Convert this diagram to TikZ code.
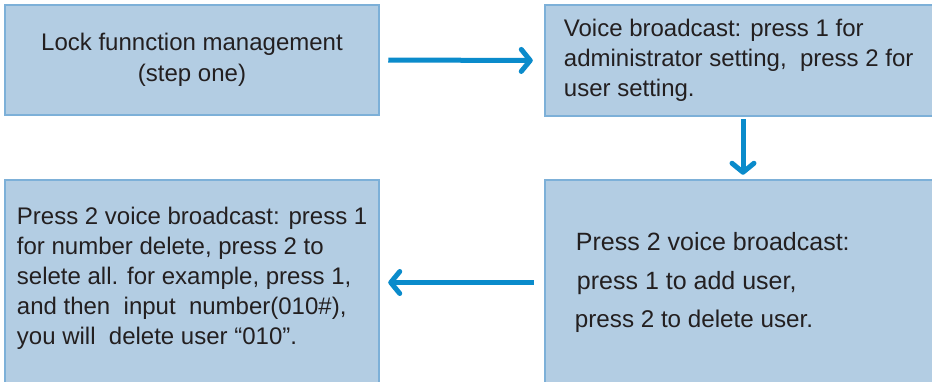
\documentclass[tikz,border=0pt]{standalone}
\usepackage{fontspec}
\setmainfont{Liberation Sans}
\usetikzlibrary{arrows.meta}
\definecolor{boxfill}{HTML}{B3CDE3}
\definecolor{boxline}{HTML}{7DB0D8}
\definecolor{arrowblue}{HTML}{0A8BCB}
\definecolor{txtcol}{HTML}{231F20}
\begin{document}
\begin{tikzpicture}[x=1pt,y=-1pt,
  box/.style={draw=boxline, fill=boxfill, line width=2.5pt, inner sep=0pt},
  txt/.style={text=txtcol, inner sep=0pt, font=\fontsize{24}{30}\selectfont},
  arr/.style={draw=arrowblue, line width=5pt, -{Straight Barb[length=9pt,width=22pt,round]}}]
\useasboundingbox (0,0) rectangle (932,381);
\node[box, minimum width=374pt, minimum height=110pt] (A) at (192,60) {};
\node[box, minimum width=396pt, minimum height=111pt] (B) at (743,60.5) {};
\node[box, minimum width=396pt, minimum height=205pt] (C) at (743,282.5) {};
\node[box, minimum width=374pt, minimum height=205pt] (D) at (192,282.5) {};
\node[txt, align=center, font=\fontsize{24}{31}\selectfont] (At) at (A.center) {Lock funnction management\\(step one)};
\node[txt, align=left, anchor=west] (Bt) at ([xshift=20pt]B.west) {Voice broadcast: press 1 for\\administrator setting,\ \ press 2 for\\user setting.};
\node[txt, align=left, anchor=west, font=\fontsize{25}{38.5}\selectfont] (Ct) at ([xshift=32pt]C.west) {Press 2 voice broadcast:\\\hspace*{1pt}press 1 to add user,\\\hspace*{-1pt}{\fontsize{24.2}{38.5}\selectfont press 2 to delete user.}};
\node[txt, align=left, anchor=west] (Dt) at ([xshift=13pt,yshift=4pt]D.west) {Press 2 voice broadcast: press 1\\for number delete, press 2 to\\selete all. for example, press 1,\\and then\ \ input\ \ number(010\#),\\you will\ \ delete user ``010''.};
\draw[arr, shorten <=8pt, shorten >=11pt] (A.east) -- (B.west);
\draw[arr, shorten <=2pt, shorten >=4pt] (B.south) -- (C.north);
\draw[arr, shorten <=10pt, shorten >=8pt] (C.west) -- (D.east);
\end{tikzpicture}
\end{document}
